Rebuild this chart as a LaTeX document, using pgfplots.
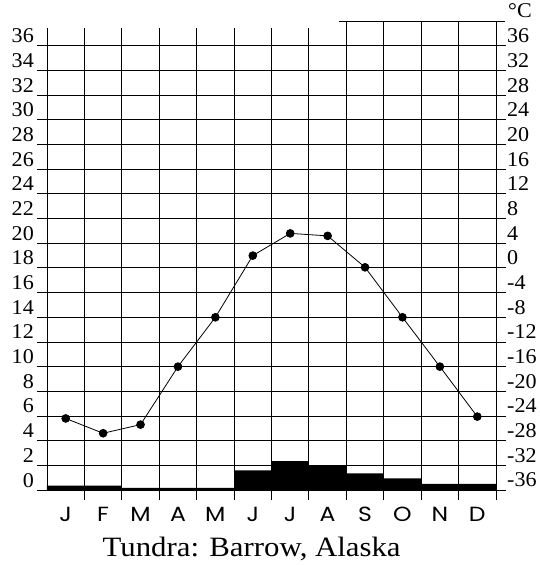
\documentclass[border=0pt]{standalone}
\usepackage{fontspec}
\setmainfont{Liberation Serif}[FakeStretch=1.05]
\newfontfamily\titlefont{Liberation Serif}[FakeStretch=1.1]
\newfontfamily\monthfont{Poppins}[FakeStretch=1.15]
\usepackage{pgfplots}
\pgfplotsset{compat=1.18}
\begin{document}
\begin{tikzpicture}
\useasboundingbox (-47pt,-75pt) rectangle (493pt,490pt);
\begin{axis}[
  at={(0,0)}, anchor=south west,
  scale only axis, width=449pt, height=462pt,
  xmin=0, xmax=12, ymin=0, ymax=37.45,
  axis lines*=left,
  axis line style={line width=0.9pt, black},
  clip=false,
  tick align=outside,
  major tick length=10pt,
  tick style={line width=0.9pt, black},
  grid=major,
  major grid style={line width=0.9pt, black},
  xtick={1,...,12}, xticklabels={},
  extra x ticks={0.5,1.5,...,11.5},
  extra x tick labels={J,F,M,A,M,J,J,A,S,O,N,D},
  extra x tick style={grid=none, tick style={draw=none},
     xticklabel style={anchor=base, yshift=-21pt, font=\monthfont\fontsize{20.5}{22}\selectfont}},
  ytick={0,2,...,36},
  yticklabels={0,2,4,6,8,10,12,14,16,18,20,22,24,26,28,30,32,34,36},
  yticklabel style={anchor=base east, yshift=3pt, inner sep=0pt, xshift=-3pt, font=\fontsize{21}{22}\selectfont},
]
\addplot[ybar, bar width=1, fill=black, draw=none] coordinates {
(0.5,0.35) (1.5,0.35) (2.5,0.17) (3.5,0.17) (4.5,0.17) (5.5,1.6)
(6.5,2.35) (7.5,2.0) (8.5,1.35) (9.5,0.95) (10.5,0.5) (11.5,0.5)};
\addplot[black, line width=0.8pt, mark=*, mark size=3.9pt, mark options={fill=black}] coordinates {
(0.5,5.8) (1.5,4.6) (2.5,5.3) (3.5,10) (4.5,14) (5.5,19)
(6.5,20.8) (7.5,20.6) (8.5,18.05) (9.5,14) (10.5,10) (11.5,5.95)};
\draw[line width=0.9pt] (axis cs:7.8,37.95) -- (axis cs:12.24,37.95);
\draw[line width=0.9pt] (axis cs:8,37.4) -- (axis cs:8,37.95);
\draw[line width=0.9pt] (axis cs:9,37.4) -- (axis cs:9,37.95);
\draw[line width=0.9pt] (axis cs:10,37.4) -- (axis cs:10,37.95);
\draw[line width=0.9pt] (axis cs:11,37.4) -- (axis cs:11,37.95);
\draw[line width=0.9pt] (axis cs:12,37.4) -- (axis cs:12,37.95);
\node[anchor=base west, inner sep=0pt, font=\fontsize{21}{22}\selectfont] at (axis cs:12,38.27) [xshift=12pt] {°C};
\node[anchor=base, inner sep=0pt, font=\titlefont\fontsize{28}{30}\selectfont] at (axis cs:5.47,0) [yshift=-66pt] {Tundra: Barrow, Alaska};
\end{axis}
\begin{axis}[
  at={(0,0)}, anchor=south west,
  scale only axis, width=449pt, height=462pt,
  xmin=0, xmax=12, ymin=0, ymax=37.45,
  axis y line*=right, axis x line=none,
  axis line style={line width=0.9pt, black},
  tick align=outside,
  major tick length=10pt,
  tick style={line width=0.9pt, black},
  ytick={0,2,...,36},
  yticklabels={-36,-32,-28,-24,-20,-16,-12,-8,-4,0,4,8,12,16,20,24,28,32,36},
  yticklabel style={anchor=base west, yshift=3pt, inner sep=0pt, xshift=1pt, font=\fontsize{21}{22}\selectfont},
]
\addplot[draw=none] coordinates {(0,0) (12,37)};
\end{axis}
\end{tikzpicture}
\end{document}
